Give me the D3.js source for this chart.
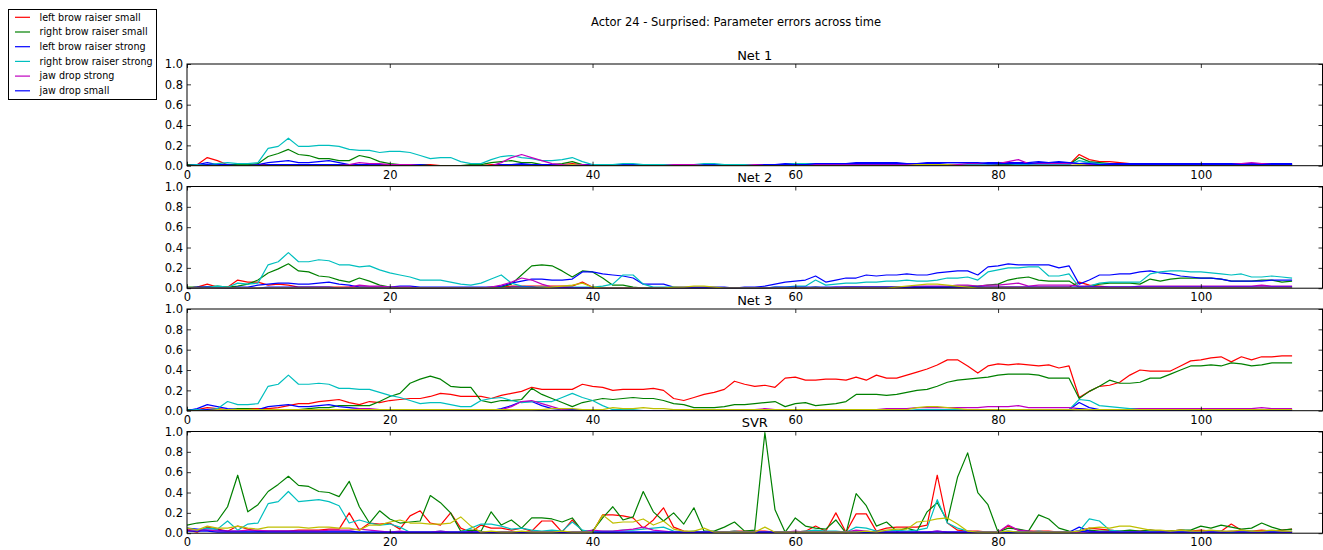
<!DOCTYPE html>
<html>
<head>
<meta charset="utf-8">
<script src="https://cdn.jsdelivr.net/npm/d3@7"></script>
<style>
  html, body { margin: 0; padding: 0; background: #fff; }
  svg { display: block; font-family: "DejaVu Sans", sans-serif; }
</style>
</head>
<body>
<svg id="chart" width="1323" height="550"></svg>
<script>
// ---- data (one value per time step, 0..109) ----
const chartTitle = "Actor 24 - Surprised: Parameter errors across time";
const panelTitles = ["Net 1", "Net 2", "Net 3", "SVR"];
const seriesNames = ["left brow raiser small", "right brow raiser small", "left brow raiser strong",
                     "right brow raiser strong", "jaw drop strong", "jaw drop small"];
const xTicks = [0, 20, 40, 60, 80, 100];
const yTicks = [0, 0.2, 0.4, 0.6, 0.8, 1.0];

// Net 1
const net1LeftSmall = [
  0.00,0.01,0.08,0.05,0.01,0.01,0.01,0.01,0.01,0.01, 0.01,0.01,0.01,0.01,0.01,0.01,0.01,0.01,0.01,0.01,
  0.01,0.01,0.01,0.01,0.01,0.00,0.00,0.00,0.00,0.00, 0.01,0.01,0.01,0.01,0.01,0.01,0.01,0.01,0.02,0.01,
  0.01,0.01,0.01,0.01,0.01,0.00,0.00,0.01,0.01,0.01, 0.01,0.01,0.01,0.01,0.01,0.01,0.01,0.01,0.01,0.01,
  0.01,0.01,0.01,0.01,0.01,0.01,0.01,0.01,0.01,0.01, 0.01,0.01,0.01,0.01,0.01,0.01,0.01,0.01,0.01,0.01,
  0.01,0.01,0.02,0.01,0.01,0.01,0.01,0.01,0.11,0.06, 0.04,0.04,0.03,0.02,0.02,0.02,0.02,0.02,0.02,0.02,
  0.02,0.02,0.02,0.02,0.02,0.02,0.02,0.02,0.02,0.02];
const net1RightSmall = [
  0.01,0.01,0.01,0.01,0.01,0.01,0.01,0.02,0.09,0.12, 0.16,0.11,0.10,0.07,0.07,0.05,0.05,0.10,0.08,0.04,
  0.02,0.01,0.01,0.01,0.00,0.00,0.00,0.00,0.01,0.01, 0.03,0.04,0.05,0.03,0.03,0.01,0.01,0.02,0.04,0.01,
  0.00,0.00,0.01,0.01,0.01,0.00,0.00,0.00,0.01,0.01, 0.01,0.01,0.01,0.00,0.00,0.00,0.01,0.01,0.01,0.01,
  0.01,0.01,0.01,0.01,0.01,0.01,0.01,0.01,0.01,0.01, 0.01,0.01,0.01,0.01,0.01,0.01,0.01,0.01,0.01,0.01,
  0.01,0.01,0.01,0.01,0.01,0.01,0.01,0.01,0.08,0.04, 0.03,0.02,0.02,0.01,0.01,0.01,0.01,0.01,0.01,0.01,
  0.01,0.01,0.01,0.01,0.01,0.01,0.01,0.01,0.01,0.01];
const net1LeftStrong = [
  0.00,0.01,0.03,0.01,0.01,0.00,0.00,0.01,0.03,0.04, 0.05,0.03,0.03,0.04,0.05,0.03,0.01,0.01,0.01,0.01,
  0.00,0.00,0.01,0.01,0.00,0.00,0.00,0.00,0.00,0.00, 0.00,0.01,0.01,0.02,0.01,0.01,0.01,0.01,0.01,0.01,
  0.01,0.01,0.01,0.01,0.01,0.01,0.01,0.01,0.01,0.01, 0.01,0.01,0.01,0.01,0.01,0.01,0.01,0.01,0.01,0.02,
  0.02,0.02,0.02,0.02,0.02,0.02,0.03,0.03,0.03,0.03, 0.03,0.02,0.02,0.03,0.03,0.03,0.03,0.03,0.02,0.03,
  0.03,0.03,0.03,0.03,0.04,0.03,0.03,0.03,0.02,0.03, 0.02,0.02,0.02,0.02,0.02,0.02,0.02,0.02,0.02,0.02,
  0.02,0.02,0.02,0.02,0.02,0.02,0.02,0.02,0.02,0.02];
const net1RightStrong = [
  0.00,0.01,0.01,0.02,0.03,0.02,0.02,0.03,0.17,0.19, 0.27,0.19,0.19,0.20,0.20,0.19,0.16,0.15,0.15,0.13,
  0.14,0.14,0.13,0.10,0.07,0.08,0.08,0.04,0.02,0.02, 0.06,0.09,0.10,0.08,0.07,0.05,0.05,0.06,0.08,0.04,
  0.01,0.01,0.01,0.02,0.02,0.01,0.01,0.01,0.01,0.01, 0.01,0.02,0.02,0.01,0.01,0.01,0.01,0.01,0.01,0.01,
  0.02,0.02,0.02,0.01,0.01,0.01,0.01,0.01,0.01,0.01, 0.01,0.01,0.01,0.01,0.01,0.01,0.01,0.01,0.01,0.01,
  0.02,0.02,0.01,0.01,0.01,0.01,0.01,0.01,0.05,0.03, 0.02,0.01,0.01,0.01,0.01,0.01,0.01,0.01,0.01,0.01,
  0.01,0.01,0.01,0.01,0.01,0.01,0.01,0.01,0.01,0.01];
const net1JawStrong = [
  0.00,0.00,0.00,0.00,0.00,0.00,0.00,0.00,0.00,0.00, 0.00,0.00,0.00,0.00,0.00,0.00,0.01,0.03,0.02,0.02,
  0.01,0.01,0.01,0.00,0.00,0.00,0.00,0.00,0.00,0.00, 0.00,0.03,0.08,0.11,0.08,0.05,0.02,0.01,0.01,0.01,
  0.00,0.00,0.00,0.00,0.00,0.00,0.00,0.00,0.01,0.01, 0.01,0.00,0.00,0.00,0.00,0.00,0.01,0.01,0.01,0.01,
  0.01,0.01,0.01,0.01,0.01,0.01,0.01,0.01,0.01,0.01, 0.01,0.01,0.01,0.01,0.01,0.01,0.01,0.02,0.02,0.02,
  0.02,0.04,0.06,0.02,0.02,0.02,0.02,0.02,0.02,0.01, 0.01,0.01,0.01,0.01,0.01,0.01,0.01,0.01,0.01,0.01,
  0.01,0.01,0.01,0.01,0.02,0.03,0.02,0.01,0.01,0.01];
const net1JawSmall = [
  0.00,0.00,0.01,0.00,0.00,0.00,0.00,0.00,0.01,0.01, 0.01,0.01,0.01,0.01,0.01,0.01,0.00,0.00,0.00,0.00,
  0.00,0.00,0.00,0.00,0.00,0.00,0.00,0.00,0.00,0.00, 0.00,0.00,0.01,0.01,0.01,0.00,0.00,0.00,0.00,0.00,
  0.00,0.00,0.00,0.00,0.00,0.00,0.00,0.00,0.00,0.00, 0.00,0.00,0.00,0.00,0.00,0.00,0.00,0.01,0.01,0.01,
  0.01,0.01,0.02,0.02,0.02,0.02,0.02,0.02,0.02,0.02, 0.02,0.02,0.02,0.02,0.02,0.03,0.03,0.03,0.03,0.02,
  0.02,0.02,0.02,0.02,0.03,0.03,0.04,0.03,0.02,0.02, 0.01,0.01,0.01,0.01,0.01,0.01,0.01,0.01,0.01,0.01,
  0.01,0.01,0.01,0.01,0.01,0.01,0.01,0.01,0.01,0.01];
const net1Other = [
  0.00,0.00,0.00,0.00,0.00,0.00,0.00,0.00,0.00,0.00, 0.00,0.00,0.00,0.00,0.00,0.00,0.00,0.00,0.00,0.00,
  0.00,0.00,0.00,0.00,0.00,0.00,0.00,0.00,0.00,0.00, 0.00,0.00,0.00,0.00,0.00,0.00,0.00,0.00,0.01,0.00,
  0.00,0.00,0.00,0.00,0.00,0.00,0.00,0.00,0.00,0.00, 0.00,0.00,0.00,0.00,0.00,0.00,0.00,0.00,0.00,0.00,
  0.00,0.00,0.00,0.00,0.00,0.00,0.00,0.00,0.00,0.00, 0.00,0.00,0.01,0.01,0.01,0.01,0.00,0.00,0.00,0.00,
  0.00,0.00,0.00,0.00,0.00,0.00,0.00,0.00,0.01,0.00, 0.00,0.00,0.00,0.00,0.00,0.00,0.00,0.00,0.00,0.00,
  0.00,0.00,0.00,0.00,0.00,0.00,0.00,0.00,0.00,0.00];

// Net 2
const net2LeftSmall = [
  0.00,0.01,0.04,0.01,0.01,0.08,0.06,0.06,0.03,0.04, 0.03,0.01,0.01,0.01,0.01,0.01,0.01,0.01,0.01,0.01,
  0.00,0.00,0.00,0.00,0.00,0.00,0.00,0.00,0.00,0.00, 0.01,0.01,0.02,0.02,0.02,0.02,0.02,0.02,0.02,0.06,
  0.01,0.00,0.00,0.00,0.00,0.00,0.00,0.00,0.00,0.00, 0.00,0.00,0.00,0.00,0.00,0.00,0.00,0.00,0.00,0.00,
  0.00,0.00,0.00,0.00,0.00,0.00,0.00,0.00,0.00,0.00, 0.00,0.00,0.00,0.01,0.01,0.01,0.01,0.01,0.01,0.01,
  0.01,0.01,0.01,0.01,0.01,0.01,0.01,0.01,0.06,0.03, 0.02,0.01,0.01,0.01,0.01,0.01,0.01,0.01,0.01,0.01,
  0.01,0.01,0.01,0.01,0.01,0.01,0.01,0.01,0.01,0.01];
const net2RightSmall = [
  0.01,0.01,0.01,0.02,0.01,0.02,0.04,0.08,0.15,0.19, 0.24,0.17,0.16,0.12,0.11,0.08,0.06,0.10,0.07,0.03,
  0.01,0.00,0.00,0.00,0.00,0.00,0.00,0.00,0.00,0.00, 0.00,0.01,0.04,0.13,0.22,0.23,0.22,0.17,0.11,0.17,
  0.16,0.10,0.03,0.03,0.01,0.00,0.00,0.00,0.00,0.00, 0.00,0.00,0.00,0.00,0.00,0.00,0.00,0.00,0.00,0.00,
  0.00,0.00,0.01,0.00,0.00,0.01,0.01,0.01,0.01,0.01, 0.01,0.01,0.01,0.01,0.01,0.01,0.02,0.02,0.02,0.03,
  0.04,0.08,0.10,0.11,0.08,0.07,0.07,0.07,0.01,0.02, 0.04,0.05,0.05,0.05,0.04,0.09,0.07,0.09,0.10,0.10,
  0.10,0.10,0.09,0.07,0.07,0.07,0.08,0.08,0.06,0.07];
const net2LeftStrong = [
  0.00,0.01,0.01,0.01,0.00,0.01,0.01,0.03,0.04,0.05, 0.05,0.04,0.04,0.05,0.06,0.04,0.03,0.01,0.01,0.01,
  0.01,0.02,0.02,0.01,0.01,0.01,0.01,0.01,0.01,0.01, 0.01,0.02,0.05,0.07,0.09,0.09,0.08,0.08,0.09,0.16,
  0.16,0.14,0.13,0.12,0.10,0.04,0.04,0.04,0.01,0.01, 0.01,0.01,0.01,0.01,0.00,0.01,0.01,0.02,0.04,0.06,
  0.07,0.08,0.12,0.06,0.08,0.10,0.10,0.13,0.12,0.13, 0.13,0.14,0.13,0.13,0.15,0.16,0.17,0.17,0.13,0.21,
  0.22,0.24,0.23,0.23,0.23,0.23,0.20,0.22,0.04,0.08, 0.13,0.13,0.14,0.14,0.16,0.17,0.15,0.14,0.12,0.11,
  0.10,0.10,0.09,0.07,0.07,0.07,0.07,0.08,0.08,0.08];
const net2RightStrong = [
  0.00,0.00,0.01,0.02,0.01,0.05,0.04,0.05,0.23,0.26, 0.35,0.26,0.26,0.28,0.27,0.23,0.23,0.21,0.22,0.18,
  0.15,0.13,0.11,0.08,0.08,0.08,0.06,0.04,0.03,0.05, 0.09,0.13,0.05,0.02,0.01,0.01,0.01,0.01,0.01,0.01,
  0.01,0.02,0.04,0.13,0.13,0.04,0.01,0.01,0.01,0.00, 0.00,0.00,0.00,0.00,0.00,0.00,0.00,0.00,0.01,0.01,
  0.02,0.02,0.08,0.03,0.04,0.05,0.05,0.06,0.06,0.07, 0.07,0.08,0.07,0.07,0.08,0.10,0.10,0.11,0.08,0.16,
  0.18,0.20,0.20,0.21,0.21,0.12,0.12,0.14,0.01,0.02, 0.05,0.06,0.06,0.06,0.06,0.14,0.16,0.17,0.17,0.16,
  0.16,0.15,0.14,0.13,0.14,0.11,0.11,0.12,0.11,0.10];
const net2JawStrong = [
  0.00,0.00,0.00,0.00,0.00,0.00,0.00,0.00,0.00,0.00, 0.00,0.00,0.00,0.00,0.00,0.00,0.01,0.03,0.02,0.02,
  0.01,0.01,0.01,0.00,0.00,0.00,0.00,0.00,0.00,0.00, 0.01,0.03,0.06,0.10,0.08,0.04,0.01,0.01,0.00,0.00,
  0.00,0.00,0.00,0.00,0.00,0.00,0.00,0.00,0.00,0.00, 0.00,0.00,0.00,0.00,0.00,0.00,0.00,0.00,0.00,0.00,
  0.00,0.00,0.00,0.00,0.01,0.01,0.01,0.01,0.01,0.01, 0.01,0.01,0.02,0.02,0.02,0.02,0.03,0.03,0.02,0.03,
  0.03,0.04,0.05,0.02,0.03,0.03,0.03,0.03,0.02,0.02, 0.01,0.01,0.01,0.01,0.02,0.02,0.02,0.02,0.02,0.02,
  0.02,0.02,0.02,0.02,0.02,0.02,0.03,0.02,0.02,0.02];
const net2JawSmall = [
  0.00,0.00,0.01,0.00,0.00,0.00,0.00,0.00,0.01,0.01, 0.01,0.01,0.01,0.01,0.01,0.00,0.00,0.00,0.00,0.00,
  0.00,0.00,0.00,0.00,0.00,0.00,0.00,0.00,0.00,0.00, 0.00,0.00,0.01,0.01,0.01,0.00,0.00,0.00,0.00,0.00,
  0.00,0.00,0.00,0.00,0.00,0.00,0.00,0.00,0.00,0.00, 0.00,0.00,0.00,0.00,0.00,0.00,0.00,0.00,0.01,0.01,
  0.01,0.01,0.01,0.01,0.01,0.01,0.01,0.01,0.01,0.01, 0.01,0.01,0.01,0.01,0.01,0.01,0.01,0.01,0.01,0.01,
  0.01,0.01,0.01,0.01,0.01,0.01,0.01,0.01,0.01,0.01, 0.01,0.01,0.01,0.01,0.01,0.01,0.01,0.01,0.01,0.01,
  0.01,0.01,0.01,0.01,0.01,0.01,0.01,0.01,0.01,0.01];
const net2Other = [
  0.00,0.00,0.00,0.00,0.00,0.00,0.00,0.00,0.00,0.00, 0.00,0.00,0.00,0.00,0.00,0.00,0.00,0.00,0.00,0.00,
  0.00,0.00,0.00,0.00,0.00,0.00,0.00,0.00,0.00,0.00, 0.00,0.00,0.00,0.00,0.00,0.00,0.01,0.02,0.03,0.05,
  0.01,0.00,0.00,0.00,0.00,0.00,0.00,0.00,0.01,0.01, 0.02,0.02,0.01,0.00,0.00,0.00,0.00,0.00,0.00,0.00,
  0.00,0.00,0.00,0.00,0.00,0.00,0.00,0.00,0.00,0.00, 0.01,0.02,0.03,0.04,0.04,0.03,0.02,0.01,0.00,0.00,
  0.00,0.00,0.00,0.00,0.00,0.00,0.00,0.00,0.00,0.00, 0.00,0.00,0.00,0.00,0.00,0.00,0.00,0.00,0.00,0.00,
  0.00,0.00,0.00,0.00,0.00,0.00,0.00,0.00,0.00,0.00];

// Net 3
const net3LeftSmall = [
  0.00,0.01,0.03,0.02,0.01,0.01,0.02,0.02,0.02,0.03, 0.05,0.07,0.07,0.09,0.10,0.11,0.08,0.06,0.09,0.08,
  0.10,0.11,0.12,0.12,0.14,0.17,0.16,0.14,0.14,0.14, 0.12,0.15,0.17,0.19,0.23,0.21,0.21,0.21,0.21,0.26,
  0.24,0.23,0.20,0.21,0.21,0.21,0.22,0.20,0.12,0.10, 0.13,0.16,0.18,0.21,0.29,0.26,0.24,0.25,0.23,0.32,
  0.33,0.30,0.30,0.31,0.31,0.30,0.33,0.30,0.35,0.32, 0.32,0.35,0.38,0.41,0.45,0.50,0.50,0.44,0.37,0.44,
  0.46,0.45,0.46,0.45,0.44,0.45,0.42,0.44,0.13,0.19, 0.24,0.25,0.28,0.35,0.40,0.39,0.39,0.39,0.44,0.49,
  0.50,0.52,0.53,0.48,0.53,0.50,0.53,0.53,0.54,0.54];
const net3RightSmall = [
  0.01,0.01,0.01,0.01,0.01,0.02,0.02,0.01,0.01,0.01, 0.01,0.01,0.02,0.03,0.03,0.05,0.05,0.05,0.05,0.09,
  0.14,0.17,0.27,0.31,0.34,0.31,0.24,0.23,0.23,0.10, 0.08,0.10,0.10,0.11,0.22,0.16,0.12,0.08,0.04,0.08,
  0.10,0.12,0.11,0.12,0.13,0.12,0.12,0.10,0.07,0.06, 0.03,0.03,0.03,0.04,0.06,0.06,0.07,0.08,0.09,0.04,
  0.07,0.08,0.05,0.06,0.07,0.09,0.16,0.16,0.16,0.15, 0.16,0.18,0.20,0.21,0.24,0.28,0.30,0.31,0.32,0.33,
  0.35,0.36,0.36,0.36,0.35,0.32,0.32,0.32,0.12,0.19, 0.24,0.30,0.27,0.27,0.28,0.32,0.32,0.36,0.40,0.44,
  0.44,0.45,0.44,0.47,0.46,0.44,0.45,0.47,0.47,0.47];
const net3LeftStrong = [
  0.00,0.02,0.06,0.04,0.02,0.01,0.01,0.01,0.04,0.05, 0.06,0.04,0.04,0.05,0.06,0.04,0.03,0.02,0.01,0.01,
  0.01,0.01,0.00,0.00,0.00,0.00,0.00,0.00,0.00,0.00, 0.00,0.02,0.05,0.09,0.09,0.05,0.02,0.01,0.01,0.01,
  0.01,0.00,0.00,0.00,0.00,0.00,0.00,0.00,0.00,0.00, 0.00,0.00,0.00,0.00,0.00,0.00,0.00,0.00,0.00,0.00,
  0.00,0.00,0.00,0.00,0.00,0.00,0.00,0.00,0.00,0.00, 0.00,0.00,0.00,0.00,0.00,0.01,0.01,0.01,0.01,0.01,
  0.01,0.01,0.01,0.01,0.01,0.01,0.01,0.01,0.08,0.03, 0.01,0.01,0.01,0.01,0.01,0.01,0.01,0.01,0.01,0.01,
  0.01,0.01,0.01,0.01,0.01,0.01,0.01,0.01,0.01,0.01];
const net3RightStrong = [
  0.00,0.01,0.01,0.02,0.09,0.06,0.06,0.07,0.24,0.26, 0.35,0.26,0.26,0.27,0.26,0.22,0.22,0.21,0.21,0.18,
  0.15,0.13,0.10,0.07,0.08,0.08,0.06,0.04,0.04,0.10, 0.12,0.13,0.10,0.08,0.09,0.09,0.09,0.13,0.17,0.13,
  0.10,0.05,0.01,0.01,0.01,0.00,0.00,0.00,0.00,0.00, 0.00,0.00,0.00,0.00,0.00,0.00,0.00,0.00,0.00,0.00,
  0.00,0.00,0.01,0.01,0.01,0.00,0.00,0.00,0.00,0.00, 0.00,0.00,0.01,0.01,0.01,0.01,0.01,0.01,0.01,0.01,
  0.01,0.01,0.01,0.01,0.01,0.01,0.01,0.01,0.11,0.10, 0.05,0.04,0.03,0.02,0.02,0.01,0.01,0.01,0.01,0.01,
  0.01,0.01,0.01,0.01,0.01,0.01,0.01,0.01,0.01,0.01];
const net3JawStrong = [
  0.00,0.00,0.00,0.00,0.00,0.00,0.00,0.00,0.00,0.00, 0.00,0.00,0.00,0.00,0.00,0.00,0.01,0.02,0.02,0.01,
  0.01,0.01,0.00,0.00,0.00,0.00,0.00,0.00,0.00,0.00, 0.00,0.01,0.04,0.09,0.10,0.07,0.04,0.01,0.00,0.00,
  0.00,0.00,0.00,0.00,0.00,0.00,0.00,0.00,0.00,0.00, 0.00,0.00,0.00,0.00,0.00,0.00,0.01,0.02,0.01,0.00,
  0.00,0.00,0.00,0.00,0.00,0.01,0.01,0.01,0.01,0.02, 0.02,0.02,0.03,0.03,0.03,0.03,0.03,0.03,0.03,0.04,
  0.04,0.04,0.05,0.03,0.03,0.03,0.03,0.03,0.02,0.01, 0.01,0.01,0.01,0.01,0.02,0.02,0.02,0.02,0.02,0.02,
  0.02,0.02,0.02,0.02,0.02,0.02,0.03,0.02,0.02,0.02];
const net3JawSmall = [
  0.00,0.00,0.01,0.01,0.00,0.00,0.00,0.00,0.01,0.01, 0.01,0.01,0.01,0.01,0.01,0.01,0.00,0.00,0.00,0.00,
  0.00,0.00,0.00,0.00,0.00,0.00,0.00,0.00,0.00,0.00, 0.00,0.00,0.01,0.01,0.01,0.00,0.00,0.00,0.00,0.00,
  0.00,0.00,0.00,0.00,0.00,0.00,0.00,0.00,0.00,0.00, 0.00,0.00,0.00,0.00,0.00,0.00,0.00,0.00,0.00,0.00,
  0.00,0.00,0.00,0.00,0.00,0.00,0.00,0.00,0.00,0.00, 0.00,0.00,0.00,0.00,0.00,0.00,0.00,0.00,0.00,0.00,
  0.00,0.00,0.00,0.00,0.00,0.00,0.00,0.00,0.02,0.01, 0.00,0.00,0.00,0.00,0.00,0.00,0.00,0.00,0.00,0.00,
  0.00,0.00,0.00,0.00,0.00,0.00,0.00,0.00,0.00,0.00];
const net3Other = [
  0.00,0.00,0.00,0.01,0.01,0.01,0.01,0.01,0.01,0.01, 0.01,0.01,0.01,0.01,0.01,0.01,0.01,0.01,0.01,0.01,
  0.01,0.01,0.01,0.01,0.01,0.01,0.01,0.01,0.01,0.01, 0.01,0.01,0.01,0.01,0.01,0.01,0.02,0.02,0.02,0.01,
  0.01,0.01,0.03,0.02,0.02,0.03,0.02,0.02,0.01,0.01, 0.01,0.01,0.01,0.01,0.01,0.01,0.01,0.01,0.01,0.01,
  0.01,0.01,0.01,0.01,0.01,0.01,0.01,0.01,0.01,0.01, 0.01,0.01,0.03,0.04,0.04,0.03,0.02,0.01,0.01,0.01,
  0.01,0.01,0.01,0.01,0.01,0.01,0.01,0.01,0.01,0.01, 0.01,0.01,0.01,0.01,0.01,0.01,0.01,0.01,0.01,0.01,
  0.01,0.01,0.01,0.01,0.01,0.01,0.01,0.01,0.01,0.01];

// SVR
const svrLeftSmall = [
  0.03,0.01,0.06,0.04,0.02,0.07,0.04,0.02,0.02,0.02, 0.02,0.03,0.03,0.03,0.04,0.04,0.20,0.03,0.10,0.09,
  0.10,0.04,0.17,0.22,0.10,0.08,0.20,0.05,0.01,0.08, 0.05,0.05,0.03,0.05,0.02,0.12,0.12,0.01,0.13,0.02,
  0.01,0.18,0.18,0.17,0.15,0.05,0.13,0.25,0.06,0.02, 0.01,0.01,0.01,0.01,0.02,0.02,0.02,0.02,0.01,0.01,
  0.01,0.02,0.07,0.02,0.20,0.01,0.19,0.19,0.02,0.05, 0.06,0.06,0.06,0.08,0.57,0.10,0.03,0.02,0.02,0.01,
  0.01,0.07,0.03,0.02,0.02,0.02,0.01,0.01,0.02,0.05, 0.04,0.03,0.02,0.02,0.02,0.03,0.02,0.02,0.03,0.02,
  0.03,0.02,0.02,0.09,0.03,0.02,0.03,0.02,0.03,0.04];
const svrRightSmall = [
  0.08,0.10,0.11,0.12,0.26,0.57,0.21,0.28,0.41,0.48, 0.56,0.47,0.46,0.41,0.40,0.36,0.51,0.26,0.10,0.22,
  0.14,0.10,0.11,0.12,0.37,0.30,0.20,0.02,0.03,0.02, 0.21,0.08,0.13,0.05,0.15,0.15,0.14,0.11,0.15,0.02,
  0.02,0.15,0.26,0.13,0.16,0.41,0.21,0.12,0.20,0.09, 0.25,0.02,0.02,0.06,0.11,0.02,0.03,0.99,0.23,0.01,
  0.15,0.07,0.05,0.04,0.13,0.00,0.39,0.27,0.07,0.11, 0.02,0.05,0.02,0.21,0.30,0.12,0.55,0.79,0.40,0.28,
  0.01,0.05,0.04,0.02,0.18,0.14,0.05,0.02,0.01,0.03, 0.02,0.02,0.02,0.03,0.02,0.03,0.02,0.02,0.03,0.03,
  0.07,0.05,0.08,0.06,0.04,0.05,0.10,0.06,0.03,0.04];
const svrLeftStrong = [
  0.05,0.04,0.03,0.03,0.02,0.02,0.02,0.02,0.02,0.02, 0.02,0.02,0.02,0.02,0.02,0.02,0.02,0.01,0.01,0.01,
  0.01,0.01,0.01,0.01,0.01,0.01,0.01,0.01,0.01,0.01, 0.01,0.01,0.01,0.01,0.01,0.01,0.01,0.01,0.01,0.01,
  0.01,0.01,0.01,0.01,0.01,0.01,0.01,0.01,0.01,0.01, 0.01,0.01,0.01,0.01,0.01,0.01,0.01,0.01,0.01,0.01,
  0.01,0.01,0.01,0.01,0.01,0.01,0.01,0.01,0.01,0.01, 0.01,0.01,0.01,0.01,0.02,0.01,0.01,0.01,0.01,0.01,
  0.01,0.01,0.01,0.01,0.01,0.01,0.01,0.01,0.06,0.02, 0.01,0.01,0.01,0.01,0.01,0.01,0.01,0.01,0.01,0.01,
  0.01,0.01,0.01,0.01,0.01,0.01,0.01,0.01,0.01,0.01];
const svrRightStrong = [
  0.05,0.03,0.05,0.04,0.12,0.03,0.09,0.10,0.29,0.31, 0.41,0.31,0.32,0.33,0.31,0.27,0.10,0.13,0.10,0.08,
  0.09,0.06,0.01,0.01,0.01,0.02,0.01,0.01,0.05,0.09, 0.09,0.07,0.04,0.05,0.03,0.02,0.03,0.02,0.11,0.03,
  0.01,0.02,0.02,0.03,0.03,0.04,0.05,0.06,0.02,0.01, 0.02,0.01,0.01,0.01,0.02,0.01,0.01,0.01,0.01,0.01,
  0.01,0.02,0.03,0.02,0.02,0.01,0.06,0.05,0.02,0.02, 0.03,0.02,0.03,0.05,0.33,0.10,0.05,0.02,0.01,0.01,
  0.01,0.02,0.01,0.01,0.02,0.01,0.01,0.01,0.02,0.14, 0.12,0.03,0.02,0.01,0.01,0.02,0.01,0.01,0.02,0.01,
  0.01,0.01,0.02,0.01,0.01,0.02,0.01,0.02,0.01,0.02];
const svrJawStrong = [
  0.04,0.03,0.03,0.02,0.02,0.02,0.03,0.03,0.02,0.02, 0.02,0.02,0.02,0.02,0.03,0.03,0.03,0.04,0.03,0.02,
  0.01,0.02,0.01,0.01,0.01,0.02,0.01,0.01,0.01,0.01, 0.01,0.01,0.01,0.01,0.01,0.01,0.01,0.01,0.01,0.01,
  0.03,0.02,0.02,0.03,0.04,0.06,0.03,0.02,0.01,0.01, 0.01,0.01,0.01,0.01,0.01,0.01,0.01,0.01,0.01,0.01,
  0.02,0.01,0.01,0.01,0.01,0.01,0.03,0.02,0.01,0.01, 0.01,0.01,0.01,0.01,0.02,0.01,0.01,0.01,0.01,0.01,
  0.01,0.08,0.03,0.02,0.01,0.01,0.01,0.01,0.01,0.01, 0.01,0.01,0.01,0.01,0.01,0.01,0.01,0.01,0.01,0.01,
  0.01,0.01,0.01,0.02,0.01,0.01,0.01,0.01,0.01,0.01];
const svrJawSmall = [
  0.02,0.02,0.02,0.01,0.01,0.01,0.01,0.01,0.01,0.01, 0.01,0.01,0.01,0.01,0.01,0.01,0.01,0.01,0.01,0.01,
  0.01,0.01,0.01,0.01,0.01,0.01,0.01,0.01,0.01,0.01, 0.01,0.01,0.01,0.01,0.01,0.01,0.01,0.01,0.01,0.01,
  0.01,0.01,0.01,0.01,0.01,0.01,0.01,0.01,0.01,0.01, 0.01,0.01,0.01,0.01,0.01,0.01,0.01,0.01,0.01,0.01,
  0.01,0.01,0.01,0.01,0.01,0.01,0.01,0.01,0.01,0.01, 0.01,0.01,0.01,0.01,0.01,0.01,0.01,0.01,0.01,0.01,
  0.01,0.01,0.01,0.01,0.01,0.01,0.01,0.01,0.02,0.01, 0.01,0.01,0.01,0.01,0.01,0.01,0.01,0.01,0.01,0.01,
  0.01,0.01,0.01,0.01,0.01,0.01,0.01,0.01,0.01,0.01];
const svrOther = [
  0.05,0.03,0.07,0.05,0.05,0.07,0.05,0.04,0.06,0.06, 0.06,0.06,0.05,0.06,0.06,0.05,0.05,0.03,0.08,0.08,
  0.11,0.13,0.10,0.10,0.09,0.09,0.10,0.16,0.07,0.01, 0.02,0.01,0.01,0.02,0.01,0.01,0.01,0.02,0.01,0.01,
  0.01,0.18,0.10,0.11,0.11,0.14,0.08,0.12,0.04,0.02, 0.02,0.05,0.01,0.01,0.01,0.01,0.01,0.06,0.01,0.01,
  0.01,0.01,0.01,0.01,0.01,0.01,0.01,0.02,0.01,0.03, 0.04,0.04,0.11,0.12,0.14,0.15,0.09,0.02,0.01,0.01,
  0.01,0.02,0.01,0.01,0.01,0.01,0.01,0.01,0.02,0.05, 0.06,0.05,0.07,0.07,0.05,0.03,0.03,0.02,0.03,0.02,
  0.02,0.03,0.02,0.02,0.03,0.02,0.02,0.03,0.02,0.02];

// series per panel, in drawing order: 6 legend series then the unlabelled yellow one
const panelSeries = [
  [net1LeftSmall, net1RightSmall, net1LeftStrong, net1RightStrong, net1JawStrong, net1JawSmall, net1Other],
  [net2LeftSmall, net2RightSmall, net2LeftStrong, net2RightStrong, net2JawStrong, net2JawSmall, net2Other],
  [net3LeftSmall, net3RightSmall, net3LeftStrong, net3RightStrong, net3JawStrong, net3JawSmall, net3Other],
  [svrLeftSmall, svrRightSmall, svrLeftStrong, svrRightStrong, svrJawStrong, svrJawSmall, svrOther]
];
const colors = ["#ff0000", "#008000", "#0000ff", "#00bfbf", "#bf00bf", "#0000ff", "#bfbf00"];

// ---- drawing ----
const svg = d3.select("#chart");
const FONT = "DejaVu Sans";
const left = 187, right = 1322.5;
const top0 = 64, step = 122.5, H = 101.7;

const x = d3.scaleLinear().domain([0, 112]).range([left, right]);

svg.append("text")
  .attr("x", 736).attr("y", 26)
  .attr("text-anchor", "middle")
  .style("font-size", "11.5px")
  .attr("fill", "#000")
  .text(chartTitle);

panelSeries.forEach((series, p) => {
  const top = top0 + p * step;
  const y = d3.scaleLinear().domain([0, 1]).range([top + H, top]);
  const g = svg.append("g");

  g.append("clipPath").attr("id", "clip" + p)
    .append("rect").attr("x", left).attr("y", top).attr("width", right - left).attr("height", H);

  const line = d3.line()
    .x((d, i) => x(i))
    .y(d => y(d));

  g.append("g").attr("clip-path", `url(#clip${p})`)
    .selectAll("path")
    .data(series)
    .join("path")
    .attr("fill", "none")
    .attr("stroke", (d, i) => colors[i])
    .attr("stroke-width", 1.2)
    .attr("stroke-linejoin", "round")
    .attr("d", line);

  // ticks (inward, all four sides)
  const xb = g.append("g").attr("transform", `translate(0,${top + H})`)
    .call(d3.axisBottom(x).tickValues(xTicks).tickSizeInner(-4).tickSizeOuter(0).tickPadding(5));
  const xt = g.append("g").attr("transform", `translate(0,${top})`)
    .call(d3.axisTop(x).tickValues(xTicks).tickSizeInner(-4).tickSizeOuter(0).tickFormat(""));
  const yl = g.append("g").attr("transform", `translate(${left},0)`)
    .call(d3.axisLeft(y).tickValues(yTicks).tickSizeInner(-4).tickSizeOuter(0).tickPadding(4)
      .tickFormat(d3.format(".1f")));
  const yr = g.append("g").attr("transform", `translate(${right},0)`)
    .call(d3.axisRight(y).tickValues(yTicks).tickSizeInner(-4).tickSizeOuter(0).tickFormat(""));

  [xb, xt, yl, yr].forEach(a => {
    a.select(".domain").remove();
    a.selectAll("line").attr("stroke", "#000").attr("stroke-width", 0.8);
    a.selectAll("text").attr("fill", "#000").style("font-size", "11.5px").style("font-family", FONT);
  });

  g.append("rect")
    .attr("x", left).attr("y", top)
    .attr("width", right - left).attr("height", H)
    .attr("fill", "none").attr("stroke", "#000").attr("stroke-width", 1);

  g.append("text")
    .attr("x", (left + right) / 2).attr("y", top - 4.5)
    .attr("text-anchor", "middle")
    .style("font-size", "13px")
    .attr("fill", "#000")
    .text(panelTitles[p]);
});

// legend
const lg = svg.append("g");
lg.append("rect")
  .attr("x", 8.5).attr("y", 9.5).attr("width", 148).attr("height", 90)
  .attr("fill", "#fff").attr("stroke", "#000").attr("stroke-width", 1);

const items = lg.selectAll("g.item")
  .data(seriesNames)
  .join("g")
  .attr("class", "item")
  .attr("transform", (d, i) => `translate(0,${17.3 + i * 14.7})`);

items.append("line")
  .attr("x1", 15).attr("x2", 30)
  .attr("stroke", (d, i) => colors[i])
  .attr("stroke-width", 1.2);

items.append("text")
  .attr("x", 39.5).attr("dy", "0.35em")
  .style("font-size", "9.6px")
  .attr("fill", "#000")
  .text(d => d);
</script>
</body>
</html>
